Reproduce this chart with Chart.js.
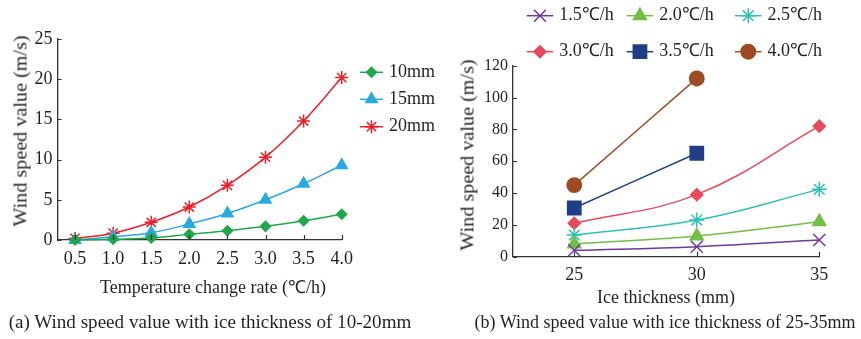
<!DOCTYPE html>
<html>
<head>
<meta charset="utf-8">
<script src="https://cdn.jsdelivr.net/npm/chart.js@4.4.0/dist/chart.umd.min.js"></script>
<style>
  body { margin: 0; background: #fff; }
  #wrap { position: relative; width: 861px; height: 339px; font-family: 'Liberation Serif', 'Times New Roman', serif; color: #231f20; }
  canvas { position: absolute; top: 0; }
  .txt { position: absolute; font-size: 18px; white-space: nowrap; transform: translate(-50%, -50%); }
  .ytitle { transform: translate(-50%, -50%) rotate(-90deg) scaleX(1.12); }
  .cap { transform: translate(-50%, -50%) scaleX(1.06); }
</style>
</head>
<body>
<div id="wrap">
  <canvas id="chartA" width="440" height="275" style="left:0"></canvas>
  <canvas id="chartB" width="421" height="290" style="left:440px"></canvas>
  <div class="txt ytitle" style="left:21px; top:131px">Wind speed value (m/s)</div>
  <div class="txt" style="left:213px; top:286px">Temperature change rate (℃/h)</div>
  <div class="txt ytitle" style="left:468px; top:155px">Wind speed value (m/s)</div>
  <div class="txt" style="left:666px; top:297px">Ice thickness (mm)</div>
  <div class="txt cap" style="left:210px; top:322px">(a) Wind speed value with ice thickness of 10-20mm</div>
  <div class="txt" style="left:665px; top:322px">(b) Wind speed value with ice thickness of 25-35mm</div>
</div>
<script>
// (a) 温度变化率 vs 风速
const rates = [0.5, 1.0, 1.5, 2.0, 2.5, 3.0, 3.5, 4.0];
const ice10 = [0, 0.1, 0.25, 0.7, 1.15, 1.7, 2.4, 3.2];
const ice15 = [0, 0.4, 0.9, 2.0, 3.3, 5.0, 7.0, 9.3];
const ice20 = [0.2, 0.85, 2.2, 4.1, 6.8, 10.3, 14.8, 20.2];
const speedTicksA = [0, 5, 10, 15, 20, 25];

// (b) 覆冰厚度 vs 风速
const iceThickness = [25, 30, 35];
const rate15 = [4, 6.3, 10.5];
const rate20 = [8, 13, 22];
const rate25 = [13.6, 23, 42.3];
const rate30 = [21, 39, 82];
const rate35 = [30.6, 65, null];
const rate40 = [45, 112, null];
const speedTicksB = [0, 20, 40, 60, 80, 100, 120];

const TEXT = '#231f20';
const AXIS = '#333333';
const FONT = "'Liberation Serif', 'Times New Roman', serif";

Chart.defaults.font.family = FONT;
Chart.defaults.font.size = 18;
Chart.defaults.color = TEXT;

function points(xs, ys) {
  return xs.map((x, i) => ({ x: x, y: ys[i] })).filter(p => p.y !== null);
}

function series(label, xs, ys, color, style, radius) {
  return {
    label: label,
    data: points(xs, ys),
    borderColor: color,
    backgroundColor: color,
    borderWidth: 1.5,
    pointStyle: style,
    pointRadius: radius,
    pointBorderWidth: 1.5,
    pointHoverRadius: radius,
    tension: 0.4,
    clip: false
  };
}

// 图例: 线段 + 标记 + 文字
const sideLegend = {
  id: 'sideLegend',
  afterDraw(chart, args, opts) {
    const ctx = chart.ctx;
    ctx.save();
    chart.data.datasets.forEach((ds, i) => {
      const p = opts.items[i];
      ctx.strokeStyle = ds.borderColor;
      ctx.fillStyle = ds.borderColor;
      ctx.lineWidth = 1.5;
      ctx.beginPath();
      ctx.moveTo(p.x, p.y);
      ctx.lineTo(p.x + opts.lineLen, p.y);
      ctx.stroke();
      Chart.helpers.drawPoint(ctx, {
        pointStyle: ds.pointStyle,
        radius: ds.pointRadius,
        borderWidth: 1.5,
        rotation: 0
      }, p.x + opts.lineLen / 2, p.y);
      ctx.fillStyle = TEXT;
      ctx.font = '18px ' + FONT;
      ctx.textBaseline = 'middle';
      ctx.textAlign = 'left';
      ctx.fillText(ds.label, p.x + opts.lineLen + opts.gap, p.y);
    });
    ctx.restore();
  }
};

// 刻度线朝内
const innerTicks = {
  id: 'innerTicks',
  afterDraw(chart) {
    const { ctx, chartArea, scales } = chart;
    ctx.save();
    ctx.strokeStyle = AXIS;
    ctx.lineWidth = 1.2;
    ctx.beginPath();
    scales.x.ticks.forEach(t => {
      const px = Math.round(scales.x.getPixelForValue(t.value)) + 0.5;
      ctx.moveTo(px, chartArea.bottom);
      ctx.lineTo(px, chartArea.bottom - 5);
    });
    scales.y.ticks.forEach(t => {
      const py = Math.round(scales.y.getPixelForValue(t.value)) + 0.5;
      ctx.moveTo(chartArea.left, py);
      ctx.lineTo(chartArea.left + 4, py);
    });
    ctx.stroke();
    ctx.restore();
  }
};

function axisOptions(xMin, xMax, xTicks, xFmt, yMax, yTicks, yWidth, xHeight, yFont) {
  return {
    x: {
      type: 'linear',
      min: xMin,
      max: xMax,
      afterBuildTicks: s => { s.ticks = xTicks.map(v => ({ value: v })); },
      afterFit: s => { s.height = xHeight; },
      grid: { display: true, drawOnChartArea: false, drawTicks: false },
      border: { color: AXIS, width: 1.3 },
      ticks: { padding: 8, callback: xFmt, maxRotation: 0, autoSkip: false }
    },
    y: {
      min: 0,
      max: yMax,
      afterBuildTicks: s => { s.ticks = yTicks.map(v => ({ value: v })); },
      afterFit: s => { s.width = yWidth; },
      grid: { display: true, drawOnChartArea: false, drawTicks: false },
      border: { color: AXIS, width: 1.3 },
      ticks: { padding: 5, font: { size: yFont } }
    }
  };
}

new Chart(document.getElementById('chartA'), {
  type: 'line',
  data: {
    datasets: [
      series('10mm', rates, ice10, '#1fa84a', 'rectRot', 5),
      series('15mm', rates, ice15, '#29a9e0', 'triangle', 6.5),
      series('20mm', rates, ice20, '#ec1f27', 'star', 6.5)
    ]
  },
  plugins: [sideLegend, innerTicks],
  options: {
    responsive: false,
    animation: false,
    layout: { padding: { top: 39, right: 98.3, left: 0, bottom: 0 } },
    scales: axisOptions(0.27, 4.0, rates, v => v.toFixed(1), 25, speedTicksA, 57.5, 35, 18),
    plugins: {
      legend: { display: false },
      tooltip: { enabled: false },
      sideLegend: {
        lineLen: 23, gap: 6,
        items: [{ x: 360, y: 72.3 }, { x: 360, y: 99.3 }, { x: 360, y: 126.7 }]
      }
    }
  }
});

new Chart(document.getElementById('chartB'), {
  type: 'line',
  data: {
    datasets: [
      series('1.5℃/h', iceThickness, rate15, '#6a3a9c', 'crossRot', 8.5),
      series('2.0℃/h', iceThickness, rate20, '#72bf44', 'triangle', 7.5),
      series('2.5℃/h', iceThickness, rate25, '#2fc0b3', 'star', 7.5),
      series('3.0℃/h', iceThickness, rate30, '#e8495c', 'rectRot', 6),
      series('3.5℃/h', iceThickness, rate35, '#1f3f85', 'rect', 9.4),
      series('4.0℃/h', iceThickness, rate40, '#9e4a22', 'circle', 7.2)
    ]
  },
  plugins: [sideLegend, innerTicks],
  options: {
    responsive: false,
    animation: false,
    layout: { padding: { top: 65.7, right: 41.7, left: 0, bottom: 0 } },
    scales: axisOptions(22.5, 35, iceThickness, v => v, 120, speedTicksB, 73, 33.3, 16),
    plugins: {
      legend: { display: false },
      tooltip: { enabled: false },
      sideLegend: {
        lineLen: 26.5, gap: 6,
        items: [
          { x: 86.7, y: 15.7 }, { x: 186.7, y: 15.7 }, { x: 295, y: 15.7 },
          { x: 86.7, y: 51.7 }, { x: 186.7, y: 51.7 }, { x: 295, y: 51.7 }
        ]
      }
    }
  }
});
</script>
</body>
</html>
